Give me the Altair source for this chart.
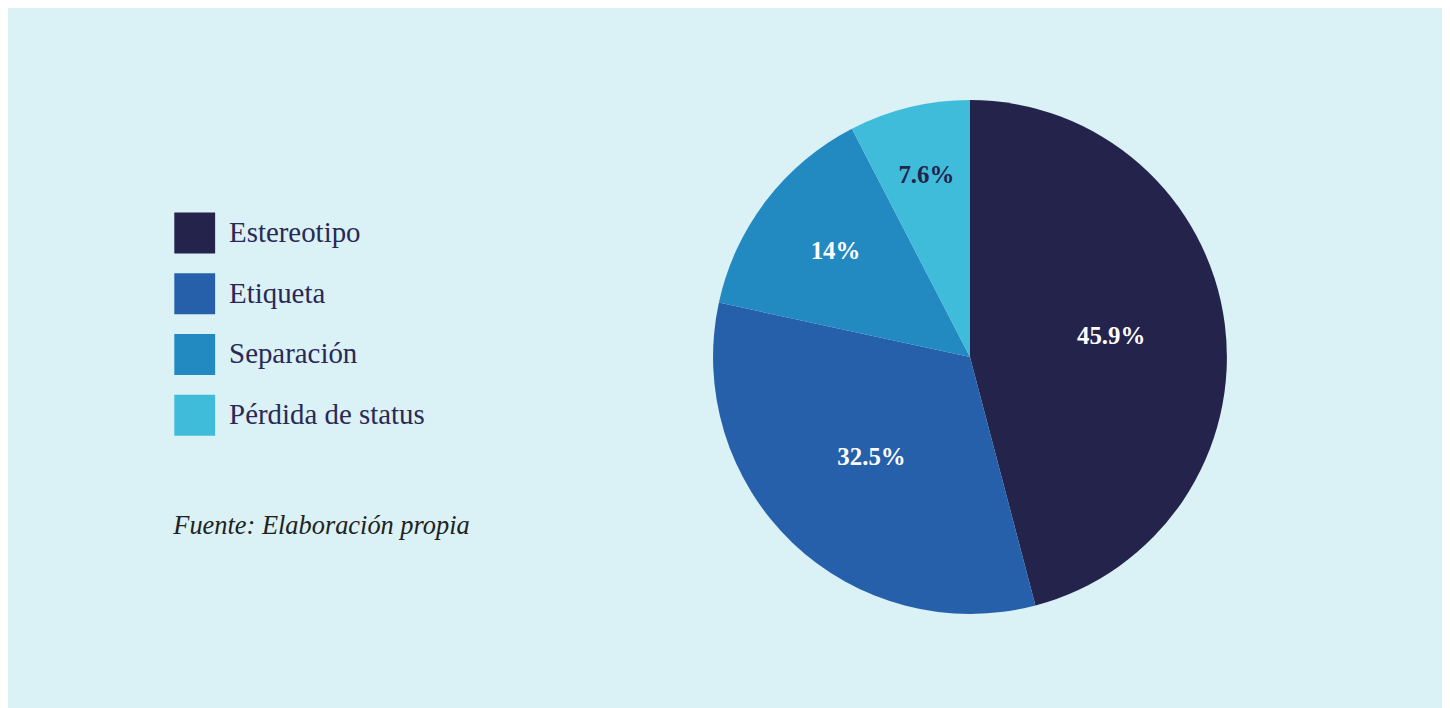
import altair as alt
import pandas as pd

categories = ["Estereotipo", "Etiqueta", "Separación", "Pérdida de status"]
values = [45.9, 32.5, 14.0, 7.6]
labels = ["45.9%", "32.5%", "14%", "7.6%"]
colors = ["#24234C", "#2660AA", "#2389C1", "#40BCDB"]
source_note = ["Fuente: Elaboración propia"]

df = pd.DataFrame({"cat": categories, "value": values, "label": labels,
                   "idx": list(range(len(categories)))})

CX, CY = 966, 349
R = 258

base = alt.Chart(df).encode(
    theta=alt.Theta("value:Q", stack=True),
    order=alt.Order("idx:Q"),
    x=alt.value(CX), y=alt.value(CY),
)

arcs = base.mark_arc(outerRadius=R, strokeWidth=0).encode(
    color=alt.Color(
        "cat:N",
        scale=alt.Scale(domain=categories, range=colors),
        sort=categories,
        legend=alt.Legend(
            title=None, orient="none", legendX=167, legendY=204,
            symbolType="square", symbolSize=1681, symbolStrokeWidth=0,
            symbolOpacity=1, rowPadding=20, labelOffset=14, padding=0,
            labelFont="Liberation Serif", labelFontSize=29,
            labelColor="#2A2955", labelLimit=0,
        ),
    ),
)


def label_layer(pred, radius, color):
    return base.mark_text(
        font="Liberation Serif", fontSize=25, fontWeight="bold",
        align="center", baseline="middle", radius=radius, color=color, dy=-3,
    ).encode(
        text=alt.condition(pred, alt.Text("label:N"), alt.value("")),
    )


t_big = label_layer(alt.datum.idx < 2, 143, "white")
t_sep = label_layer(alt.datum.cat == "Separación", 170, "white")
t_per = label_layer(alt.datum.cat == "Pérdida de status", 185, "#24234C")

note = alt.Chart(pd.DataFrame({"t": source_note})).mark_text(
    font="Liberation Serif", fontSize=26.5, fontStyle="italic",
    align="left", baseline="alphabetic", color="#222222",
).encode(x=alt.value(166), y=alt.value(527), text="t:N")

chart = alt.layer(arcs, t_big, t_sep, t_per, note).properties(
    width=1440, height=700, background="#DAF1F6", padding=0,
).configure_view(stroke=None)

chart.save("out.html", embed_options={"renderer": "svg", "actions": False})
